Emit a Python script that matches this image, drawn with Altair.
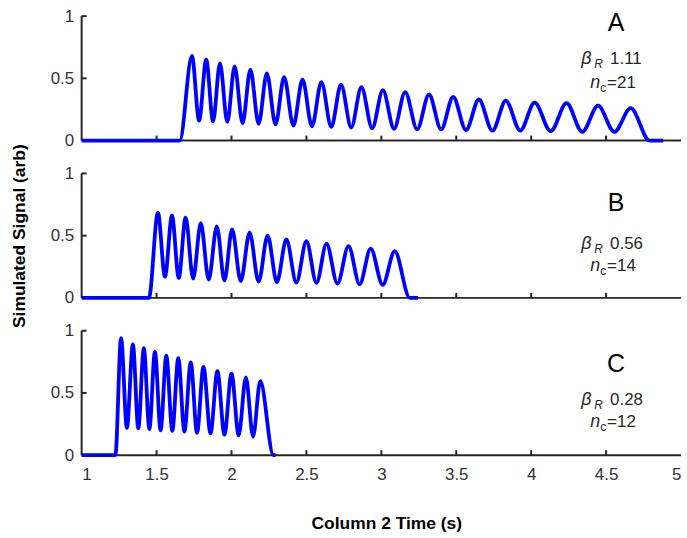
import altair as alt
import pandas as pd

# ---------------- data ----------------
# Panel A
a_peak_t = [1.736, 1.831, 1.923, 2.021, 2.126, 2.236, 2.351, 2.474, 2.600, 2.731, 2.867,
            3.010, 3.159, 3.318, 3.479, 3.651, 3.831, 4.023, 4.236, 4.446, 4.664]
a_peak_v = [0.68, 0.65, 0.62, 0.595, 0.57, 0.54, 0.51, 0.49, 0.47, 0.45, 0.43,
            0.405, 0.39, 0.37, 0.35, 0.33, 0.32, 0.305, 0.30, 0.28, 0.26]
a_trough_t = [1.784, 1.877, 1.972, 2.074, 2.181, 2.294, 2.413, 2.537, 2.666, 2.799,
              2.939, 3.085, 3.239, 3.399, 3.565, 3.741, 3.927, 4.130, 4.341, 4.555]
a_trough_v = [0.16, 0.155, 0.15, 0.14, 0.135, 0.13, 0.12, 0.115, 0.11, 0.105,
              0.10, 0.095, 0.09, 0.09, 0.085, 0.08, 0.08, 0.075, 0.07, 0.07]
a_edges = [1.655, 4.79, 4.88]   # rise start, fall end, line end

# Panel B
b_peak_t = [1.509, 1.603, 1.694, 1.795, 1.902, 2.004, 2.121, 2.241, 2.366, 2.500,
            2.634, 2.781, 2.929, 3.089]
b_peak_v = [0.685, 0.66, 0.645, 0.60, 0.575, 0.55, 0.525, 0.50, 0.47, 0.455,
            0.435, 0.415, 0.395, 0.375]
b_trough_t = [1.556, 1.648, 1.744, 1.848, 1.953, 2.062, 2.181, 2.303, 2.433, 2.567,
              2.707, 2.855, 3.009]
b_trough_v = [0.17, 0.16, 0.155, 0.147, 0.14, 0.135, 0.13, 0.127, 0.123, 0.12,
              0.115, 0.11, 0.105]
b_edges = [1.449, 3.19, 3.245]

# Panel C
c_peak_t = [1.263, 1.342, 1.415, 1.489, 1.565, 1.645, 1.728, 1.813, 1.906, 2.000,
            2.096, 2.192]
c_peak_v = [0.94, 0.89, 0.86, 0.83, 0.80, 0.78, 0.745, 0.71, 0.675, 0.655, 0.625, 0.595]
c_trough_t = [1.302, 1.378, 1.452, 1.527, 1.605, 1.686, 1.770, 1.860, 1.953, 2.048, 2.144]
c_trough_v = [0.22, 0.215, 0.21, 0.20, 0.195, 0.19, 0.18, 0.175, 0.165, 0.16, 0.15]
c_edges = [1.225, 2.28, 2.295]

panel_letters = ["A", "B", "C"]
beta_values = ["1.11", "0.56", "0.28"]
nc_values = ["=21", "=14", "=12"]
label_t = [4.52, 4.52, 4.52]
letter_y = [0.944, 0.76, 0.736]
beta_y = [0.656, 0.432, 0.44]
nc_y = [0.464, 0.256, 0.264]

x_range = [1, 5]
y_range = [0, 1]
x_tick_values = [1, 1.5, 2, 2.5, 3, 3.5, 4, 4.5, 5]
inner_x_ticks = [1.5, 2, 2.5, 3, 3.5, 4, 4.5]
y_tick_values = [0, 0.5, 1]
inner_y_ticks = [0.5, 1]

# ---------------- helpers ----------------
W, H = 602, 125
BLUE = "#0000ff"
AX = "#262626"
FONT = "Liberation Sans"


def signal_frame(pt, pv, tt, tv, edges):
    rows = [(1.0, 0.0), (edges[0], 0.0)]
    for i in range(len(pt)):
        rows.append((pt[i], pv[i]))
        if i < len(tt):
            rows.append((tt[i], tv[i]))
    rows.append((edges[1], 0.0))
    rows.append((edges[2], 0.0))
    return pd.DataFrame(rows, columns=["t", "v"])


def panel(df, idx, bottom, ytitle):
    if bottom:
        xaxis = alt.Axis(
            values=x_tick_values, format="~g", ticks=False, domain=False,
            labelFontSize=17, labelColor="#333333", labelFont=FONT, labelPadding=11,
            title="Column 2 Time (s)",
            titleFontSize=17.5, titleFont=FONT, titleFontWeight="bold", titleColor="#000000",
            titlePadding=33, titleX=306, grid=False,
        )
    else:
        xaxis = None
    yaxis = alt.Axis(
        values=y_tick_values, format="~g", ticks=False, domain=False,
        labelFontSize=17, labelColor="#333333", labelFont=FONT, labelPadding=8,
        title="Simulated Signal (arb)" if ytitle else "",
        titleFontSize=17.5, titleFont=FONT, titleFontWeight="bold", titleColor="#000000",
        titlePadding=22, grid=False,
    )
    xs = alt.Scale(domain=x_range, nice=False)
    ys = alt.Scale(domain=y_range, nice=False)
    X = lambda f="t": alt.X(f"{f}:Q", scale=xs, axis=xaxis)
    Y = lambda f="v": alt.Y(f"{f}:Q", scale=ys, axis=yaxis)

    # axis lines drawn as data-driven rules
    xdom = alt.Chart(pd.DataFrame({"t": [x_range[0]], "t2": [x_range[1]], "v": [y_range[0]]})
                     ).mark_rule(color=AX, strokeWidth=2).encode(
        x=X(), x2="t2:Q", y=Y())
    ydom = alt.Chart(pd.DataFrame({"t": [x_range[0]], "v": [y_range[0]], "v2": [y_range[1]]})
                     ).mark_rule(color=AX, strokeWidth=2).encode(
        x=X(), y=Y(), y2="v2:Q")

    line = alt.Chart(df).mark_line(
        color=BLUE, strokeWidth=3.8, interpolate="monotone"
    ).encode(x=X(), y=Y())

    xt = alt.Chart(pd.DataFrame({"t": inner_x_ticks})).mark_rule(
        color=AX, strokeWidth=2
    ).encode(x=X(), y=alt.value(H), y2=alt.value(H - 5))

    yt = alt.Chart(pd.DataFrame({"v": inner_y_ticks})).mark_rule(
        color=AX, strokeWidth=2
    ).encode(y=Y(), x=alt.value(0), x2=alt.value(5))

    def txt(text, yv, dx, dy, size, style="normal", align="left", color=AX):
        d = pd.DataFrame({"t": [label_t[idx]], "v": [yv], "s": [text]})
        return alt.Chart(d).mark_text(
            align=align, baseline="middle", dx=dx, dy=dy, fontSize=size,
            font=FONT, fontStyle=style, color=color,
        ).encode(x=X(), y=Y(), text="s:N")

    labels = [
        txt(panel_letters[idx], letter_y[idx], 7, 0, 25, align="center", color="#000000"),
        txt("β", beta_y[idx], -28, 0, 18, style="italic"),
        txt("R", beta_y[idx], -15, 5, 12, style="italic"),
        txt(beta_values[idx], beta_y[idx], 1, 0, 17),
        txt("n", nc_y[idx], -19, 0, 18, style="italic"),
        txt("c", nc_y[idx], -9, 5, 12),
        txt(nc_values[idx], nc_y[idx], -2, 0, 17),
    ]
    return alt.layer(xdom, ydom, line, xt, yt, *labels).properties(width=W, height=H)


pa = panel(signal_frame(a_peak_t, a_peak_v, a_trough_t, a_trough_v, a_edges), 0, False, False)
pb = panel(signal_frame(b_peak_t, b_peak_v, b_trough_t, b_trough_v, b_edges), 1, False, True)
pc = panel(signal_frame(c_peak_t, c_peak_v, c_trough_t, c_trough_v, c_edges), 2, True, False)

chart = alt.vconcat(pa, pb, pc, spacing=33, bounds="flush").properties(
    padding={"left": 10, "top": 6, "right": 5, "bottom": 5}
).configure(background="white").configure_view(stroke=None)

chart.save("out.html", embed_options={"renderer": "svg", "actions": False})
